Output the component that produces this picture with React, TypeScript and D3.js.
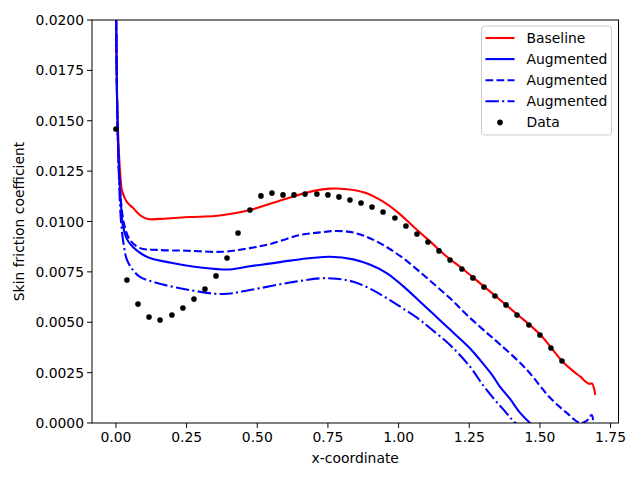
import React from "react";
import * as d3 from "d3";

type Pt = [number, number];

// Skin friction
const baseline: Pt[] = [
  [0.0, 0.0215], [0.004, 0.0162], [0.01, 0.0136], [0.015, 0.0124], [0.021, 0.01156],
  [0.03, 0.0112], [0.04, 0.01095], [0.05, 0.0108], [0.061, 0.01067], [0.075, 0.01045],
  [0.09, 0.01027], [0.114, 0.01012], [0.18, 0.01015], [0.26, 0.01022], [0.35, 0.01027],
  [0.403, 0.01037], [0.474, 0.01057], [0.55, 0.0109], [0.616, 0.01119], [0.7, 0.01152],
  [0.758, 0.01163], [0.817, 0.0116], [0.876, 0.01145], [0.935, 0.01107], [0.994, 0.01049],
  [1.053, 0.00974], [1.112, 0.009], [1.171, 0.00825], [1.224, 0.00768], [1.263, 0.00723],
  [1.341, 0.00632], [1.419, 0.0054], [1.5, 0.0044], [1.578, 0.00308], [1.62, 0.00255],
  [1.643, 0.0023], [1.666, 0.002], [1.676, 0.00194], [1.684, 0.00197], [1.696, 0.00139],
];

const augmentedSolid: Pt[] = [
  [0.0, 0.0215], [0.004, 0.016], [0.01, 0.0128], [0.018, 0.0108], [0.025, 0.00975],
  [0.04, 0.0091], [0.06, 0.00873], [0.09, 0.0084], [0.12, 0.00819], [0.2, 0.00794],
  [0.3, 0.00772], [0.403, 0.00762], [0.474, 0.00778], [0.55, 0.00792], [0.616, 0.00806],
  [0.7, 0.0082], [0.757, 0.00825], [0.84, 0.00812], [0.9, 0.00785], [0.959, 0.00743],
  [1.017, 0.00678], [1.076, 0.00602], [1.125, 0.00538], [1.177, 0.0047], [1.253, 0.0037],
  [1.288, 0.00313], [1.33, 0.0024], [1.359, 0.00179], [1.395, 0.00118], [1.43, 0.0005],
  [1.465, 0.0], [1.52, -0.0006], [1.6, -0.001], [1.69, -0.001],
];

const augmentedDashed: Pt[] = [
  [0.0, 0.0215], [0.004, 0.016], [0.01, 0.0128], [0.018, 0.011], [0.03, 0.0098],
  [0.05, 0.00908], [0.085, 0.00868], [0.145, 0.00859], [0.25, 0.00855], [0.379, 0.0085],
  [0.474, 0.00868], [0.55, 0.0089], [0.651, 0.00933], [0.723, 0.00946], [0.782, 0.00953],
  [0.84, 0.00945], [0.9, 0.00916], [0.96, 0.00871], [1.017, 0.00817], [1.075, 0.0075],
  [1.135, 0.00677], [1.19, 0.00609], [1.242, 0.00536], [1.3, 0.00462], [1.359, 0.0039],
  [1.45, 0.0027], [1.536, 0.00125], [1.595, 0.0005], [1.642, 0.0], [1.665, 0.0001],
  [1.683, 0.0004], [1.69, -0.0002],
];

const augmentedDashDot: Pt[] = [
  [0.0, 0.0215], [0.004, 0.016], [0.01, 0.0125], [0.018, 0.01], [0.028, 0.0088],
  [0.039, 0.00809], [0.06, 0.0076], [0.085, 0.00725], [0.145, 0.00695], [0.26, 0.0066],
  [0.379, 0.0064], [0.474, 0.0066], [0.616, 0.00697], [0.723, 0.00718], [0.78, 0.00716],
  [0.84, 0.00701], [0.9, 0.00666], [0.959, 0.00619], [1.017, 0.00567], [1.076, 0.00511],
  [1.112, 0.0047], [1.182, 0.00387], [1.253, 0.00279], [1.3, 0.00185], [1.336, 0.00122],
  [1.375, 0.0006], [1.413, 0.0], [1.5, -0.001], [1.69, -0.0015],
];

const dataX = [
  0.0, 0.039, 0.078, 0.117, 0.156, 0.198, 0.237, 0.276, 0.315, 0.354, 0.393, 0.432,
  0.474, 0.513, 0.552, 0.591, 0.63, 0.669, 0.711, 0.75, 0.789, 0.828, 0.867, 0.906,
  0.945, 0.987, 1.026, 1.065, 1.104, 1.143, 1.182, 1.224, 1.263, 1.302, 1.341, 1.38,
  1.419, 1.461, 1.5, 1.539, 1.578,
];
const dataY = [
  0.01459, 0.0071, 0.0059, 0.00526, 0.00511, 0.00536, 0.00571, 0.00615, 0.00665, 0.0073,
  0.00819, 0.00943, 0.01057, 0.01127, 0.01141, 0.01132, 0.01132, 0.01136, 0.01136, 0.01132,
  0.01122, 0.01107, 0.01092, 0.01072, 0.01047, 0.01017, 0.00978, 0.00938, 0.00898, 0.00854,
  0.00809, 0.00764, 0.0072, 0.00675, 0.0063, 0.00586, 0.00536, 0.00486, 0.00437, 0.00372,
  0.00308,
];

const xTicks = [0, 0.25, 0.5, 0.75, 1.0, 1.25, 1.5, 1.75];
const yTicks = [0, 0.0025, 0.005, 0.0075, 0.01, 0.0125, 0.015, 0.0175, 0.02];

const W = 640;
const H = 480;
const left = 92;
const right = 618.5;
const top = 20;
const bottom = 423;
const font = "'DejaVu Sans', sans-serif";
const fs = 13.9;

const DASHED = "7.7,3.3";
const DASHDOT = "13.3,3.3,2.1,3.3";

const series = [
  { label: "Baseline", pts: baseline, color: "red", dash: undefined },
  { label: "Augmented", pts: augmentedSolid, color: "blue", dash: undefined },
  { label: "Augmented", pts: augmentedDashed, color: "blue", dash: DASHED },
  { label: "Augmented", pts: augmentedDashDot, color: "blue", dash: DASHDOT },
];

export default function App() {
  const x = d3.scaleLinear().domain([-0.0847, 1.778]).range([left, right]);
  const y = d3.scaleLinear().domain([0, 0.02]).range([bottom, top]);
  const line = d3
    .line<Pt>()
    .x((d) => x(d[0]))
    .y((d) => y(d[1]))
    .curve(d3.curveCatmullRom.alpha(0.5));

  const legX = 481.5;
  const legY = 26;
  const rowH = 21.1;

  return (
    <svg
      width={W}
      height={H}
      style={{ position: "absolute", left: 0, top: 0, background: "white" }}
      fontFamily={font}
      fontSize={fs}
    >
      <defs>
        <clipPath id="plotArea">
          <rect x={left} y={top} width={right - left} height={bottom - top} />
        </clipPath>
      </defs>

      <g clipPath="url(#plotArea)">
        {series.map((s, i) => (
          <path
            key={i}
            d={line(s.pts) ?? ""}
            fill="none"
            stroke={s.color}
            strokeWidth={2.1}
            strokeDasharray={s.dash}
          />
        ))}
        {dataX.map((dx, i) => (
          <circle key={i} cx={x(dx)} cy={y(dataY[i])} r={2.8} fill="black" />
        ))}
      </g>

      {/* frame */}
      <rect
        x={left}
        y={top}
        width={right - left}
        height={bottom - top}
        fill="none"
        stroke="black"
        strokeWidth={1}
      />

      {/* x axis */}
      {xTicks.map((t) => (
        <g key={t} transform={`translate(${x(t)},${bottom})`}>
          <line y2={4.9} stroke="black" />
          <text y={19} textAnchor="middle" fill="black">
            {t.toFixed(2)}
          </text>
        </g>
      ))}
      <text x={(left + right) / 2} y={463} textAnchor="middle">
        x-coordinate
      </text>

      {/* y axis */}
      {yTicks.map((t) => (
        <g key={t} transform={`translate(${left},${y(t)})`}>
          <line x2={-4.9} stroke="black" />
          <text x={-8} dy="0.36em" textAnchor="end" fill="black">
            {t.toFixed(4)}
          </text>
        </g>
      ))}
      <text
        transform={`translate(24,${(top + bottom) / 2}) rotate(-90)`}
        textAnchor="middle"
      >
        Skin friction coefficient
      </text>

      {/* legend */}
      <rect
        x={legX}
        y={legY}
        width={130}
        height={109}
        rx={3}
        fill="white"
        fillOpacity={0.8}
        stroke="#cccccc"
      />
      {series.map((s, i) => {
        const cy = legY + 12 + i * rowH;
        return (
          <g key={i}>
            <line
              x1={legX + 4}
              x2={legX + 33}
              y1={cy}
              y2={cy}
              stroke={s.color}
              strokeWidth={2.1}
              strokeDasharray={s.dash}
            />
            <text x={legX + 45} y={cy} dy="0.36em">
              {s.label}
            </text>
          </g>
        );
      })}
      <circle cx={legX + 18.5} cy={legY + 12 + 4 * rowH} r={2.8} fill="black" />
      <text x={legX + 45} y={legY + 12 + 4 * rowH} dy="0.36em">
        Data
      </text>
    </svg>
  );
}
